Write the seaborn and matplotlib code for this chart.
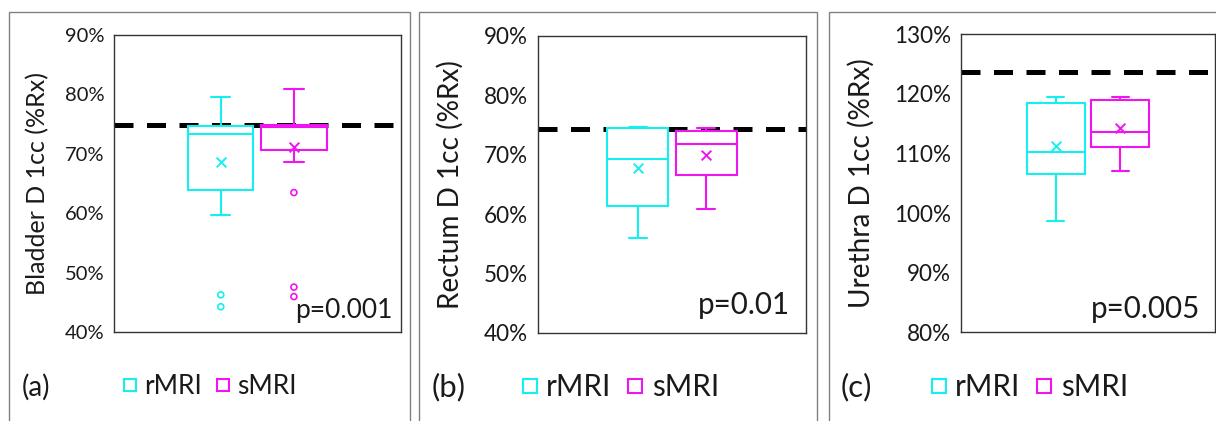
import matplotlib
matplotlib.use("Agg")
import matplotlib.pyplot as plt
import seaborn as sns
import pandas as pd
from matplotlib.lines import Line2D
from matplotlib.patches import Rectangle
from matplotlib.ticker import FuncFormatter

# ---- data (% of Rx) ----
series = ["rMRI", "sMRI"]
colors = {"rMRI": "#14F0F0", "sMRI": "#F014F0"}

panel_tags = ["(a)", "(b)", "(c)"]
ylabels = ["Bladder D 1cc (%Rx)", "Rectum D 1cc (%Rx)", "Urethra D 1cc (%Rx)"]
pvalues = ["p=0.001", "p=0.01", "p=0.005"]
ylims = [(40, 90), (40, 90), (80, 130)]
constraints = [74.8, 74.3, 123.7]  # dashed black line

# whisker low, Q1, median, Q3, whisker high
bladder_r = [59.8, 63.9, 73.3, 74.7, 79.5]
bladder_s = [68.7, 70.6, 74.6, 74.9, 80.9]
rectum_r = [56.0, 61.4, 69.2, 74.5, 74.7]
rectum_s = [60.8, 66.6, 71.8, 74.0, 74.55]
urethra_r = [98.6, 106.6, 110.3, 118.4, 119.4]
urethra_s = [107.0, 111.1, 113.6, 118.9, 119.4]

means_r = [68.6, 67.8, 111.2]
means_s = [71.2, 69.9, 114.2]

outliers_r = [[46.3, 44.3], [], []]
outliers_s = [[63.5, 47.6, 46.0], [], []]

boxes = [(bladder_r, bladder_s), (rectum_r, rectum_s), (urethra_r, urethra_s)]

# ---- layout (figure pixels) ----
W, H = 1216, 421
axes_px = [(114, 35, 400.7, 332.3), (537.7, 36, 806, 332.7), (961, 34.3, 1215, 332.3)]
frames_px = [(9, 409.5), (419, 816.7), (829, 1230)]
text_scale = [1.0, 1.12, 1.12]
ylabel_x = [-0.268, -0.327, -0.391]
p_off = [(8, 14), (16, 19), (15, 14)]
legend_x = [123, 522.7, 931.7]
tag_x = [21.7, 431.7, 841]

sns.set_style("white")
plt.rcParams["font.family"] = ["Lato", "DejaVu Sans"]

fig = plt.figure(figsize=(W / 100, H / 100), dpi=100)

for i in range(3):
    l, t, r, b = axes_px[i]
    ax = fig.add_axes([l / W, 1 - b / H, (r - l) / W, (b - t) / H])
    k = text_scale[i]

    box_df = pd.DataFrame({
        "group": "D1cc",
        "series": ["rMRI"] * 5 + ["sMRI"] * 5,
        "value": boxes[i][0] + boxes[i][1],
    })
    mean_df = pd.DataFrame({"group": "D1cc", "series": series,
                            "value": [means_r[i], means_s[i]]})
    out_df = pd.DataFrame({
        "group": "D1cc",
        "series": ["rMRI"] * len(outliers_r[i]) + ["sMRI"] * len(outliers_s[i]),
        "value": outliers_r[i] + outliers_s[i],
    })

    ax.axhline(constraints[i], color="black", lw=3.6, ls=(0, (3.8, 2.7)), zorder=0.8)

    # white-filled boxes, one call per series so each gets its own outline colour
    for s in series:
        sns.boxplot(data=box_df[box_df.series == s], x="group", y="value",
                    hue="series", hue_order=series,
                    palette={"rMRI": "white", "sMRI": "white"},
                    linecolor=colors[s], linewidth=1.5, width=0.8, gap=0.107,
                    dodge=True, whis=(0, 100), showfliers=False,
                    capwidths=0.105, zorder=2.2, legend=False, ax=ax)

    sns.stripplot(data=mean_df, x="group", y="value", hue="series",
                  hue_order=series, palette=colors, dodge=True, jitter=False,
                  marker="x", size=7, linewidth=1.4, legend=False, ax=ax)

    if len(out_df):
        n0 = len(ax.collections)
        sns.stripplot(data=out_df, x="group", y="value", hue="series",
                      hue_order=series, palette=colors, dodge=True, jitter=False,
                      marker="o", size=4.3, legend=False, ax=ax)
        for coll in ax.collections[n0:]:
            fc = coll.get_facecolors()
            coll.set_edgecolors(fc)
            coll.set_facecolors("none")
            coll.set_linewidths(1.2)

    ax.set_xlim(-0.784, 0.784)
    ax.set_ylim(*ylims[i])
    ax.set_yticks(range(ylims[i][0], ylims[i][1] + 1, 10))
    ax.yaxis.set_major_formatter(FuncFormatter(lambda v, _: f"{v:.0f}%"))
    ax.tick_params(axis="y", length=0, pad=7, labelsize=14.5 * k, labelcolor="#1a1a1a")
    ax.set_xticks([])
    ax.set_xlabel("")
    ax.set_ylabel(ylabels[i], fontsize=18 * k, color="#1a1a1a")
    ax.yaxis.label.set_va("center")
    ax.yaxis.set_label_coords(ylabel_x[i], 0.5)
    for sp in ax.spines.values():
        sp.set_color("#333333")
        sp.set_linewidth(1.0)

    ax.text(1 - p_off[i][0] / (r - l), p_off[i][1] / (b - t), pvalues[i],
            transform=ax.transAxes, ha="right", va="baseline",
            fontsize=19 * k, color="#1a1a1a")

    handles = [Line2D([], [], ls="none", marker="s", ms=9 * k, mfc="none",
                      mec=colors[s], mew=1.5) for s in series]
    ax.legend(handles, series, loc="center left",
              bbox_to_anchor=(legend_x[i] / W, 1 - 387 / H),
              bbox_transform=fig.transFigure, ncol=2, frameon=False,
              fontsize=19 * k, handlelength=0.5, handletextpad=0.3,
              columnspacing=0.55, borderpad=0, borderaxespad=0,
              labelcolor="#1a1a1a")

    fig.text(tag_x[i] / W, 1 - 387 / H, panel_tags[i], ha="left", va="center",
             fontsize=20 * k, color="#1a1a1a")

    fl, fr = frames_px[i]
    fig.patches.append(Rectangle((fl / W, -0.1), (fr - fl) / W, 1.1 - 12.3 / H,
                                 transform=fig.transFigure, fill=False,
                                 edgecolor="#808080", lw=1.0))

fig.savefig("out.png", dpi=100)
